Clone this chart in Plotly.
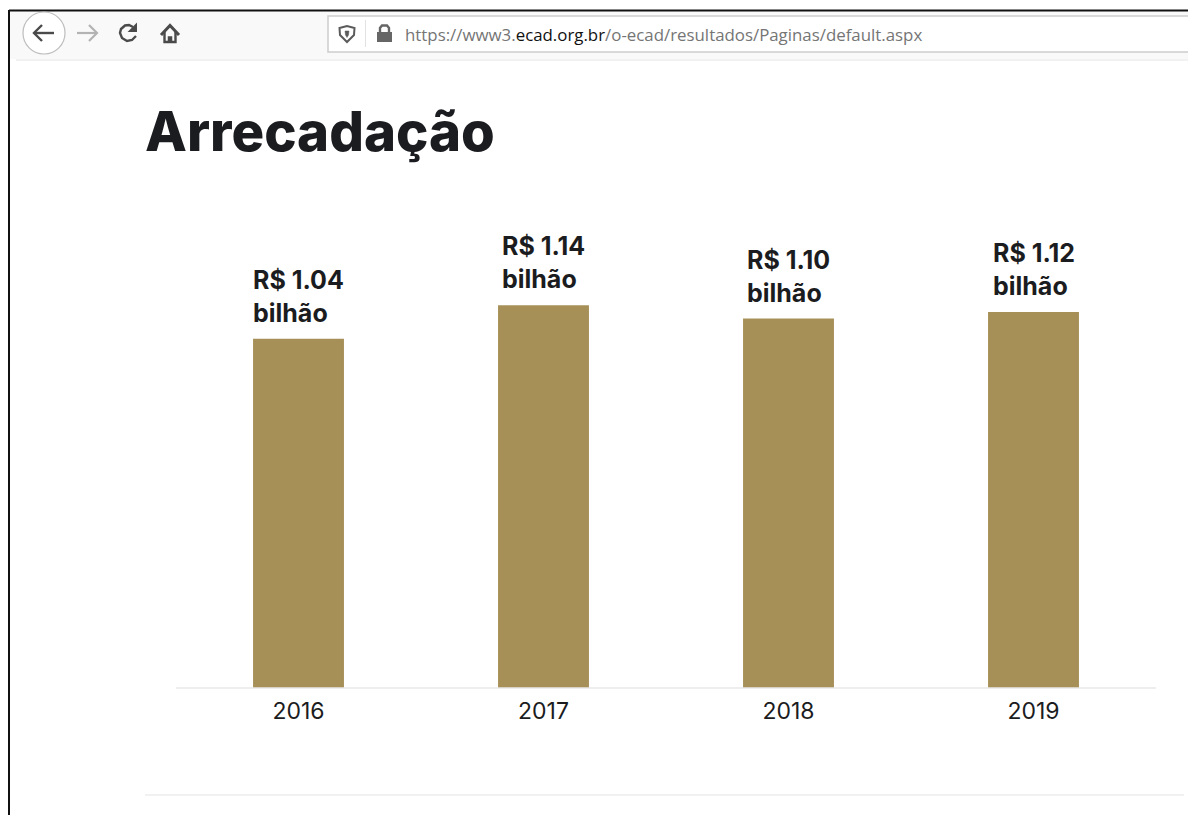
import plotly.graph_objects as go

# Annual collection figures, in billions of reais
years = ["2016", "2017", "2018", "2019"]
revenue = [1.04, 1.14, 1.10, 1.12]
value_labels = ["R$ 1.04", "R$ 1.14", "R$ 1.10", "R$ 1.12"]
unit_label = "bilhão"
page_title = "Arrecadação"
url_parts = ["https://www3.", "ecad.org.br", "/o-ecad/resultados/Paginas/default.aspx"]

W, H = 1188, 815
PLOT_L, PLOT_R, PLOT_T, PLOT_B = 176, 1156, 188, 688
PX_PER_UNIT = 335.8
INK = "#1b1c20"
GOLD = "#a69058"
GREY_TEXT = "#757575"
ICON = "#4a4a4a"


def px(x):
    return (x - PLOT_L) / (PLOT_R - PLOT_L)


def py(y):
    return (PLOT_B - y) / (PLOT_B - PLOT_T)


def rect(x0, y0, x1, y1, fill, line=None, width=0):
    return dict(type="rect", xref="paper", yref="paper", x0=px(x0), x1=px(x1), y0=py(y1), y1=py(y0),
                fillcolor=fill, line=dict(color=line or fill, width=width), layer="below")


def hline(x0, x1, y, color, width=1):
    return dict(type="line", xref="paper", yref="paper", x0=px(x0), x1=px(x1), y0=py(y), y1=py(y),
                line=dict(color=color, width=width), layer="below")


def poly(points, color, width=2, fill=None, close=False):
    d = "M " + " L ".join(f"{px(x):.5f},{py(y):.5f}" for x, y in points) + (" Z" if close else "")
    return dict(type="path", xref="paper", yref="paper", path=d, fillcolor=fill or "rgba(0,0,0,0)",
                line=dict(color=color, width=width))


def ellipse(cx, cy, r, color, width=1, fill="rgba(0,0,0,0)"):
    return dict(type="circle", xref="paper", yref="paper", x0=px(cx - r), x1=px(cx + r),
                y0=py(cy + r), y1=py(cy - r), fillcolor=fill, line=dict(color=color, width=width))


shapes = [
    # browser toolbar and window frame
    rect(10, 11, W, 59, "#f9f9fa"),
    hline(9, W, 10.5, "#111111", 2),
    dict(type="line", xref="paper", yref="paper", x0=px(9), x1=px(9), y0=py(H), y1=py(10),
         line=dict(color="#111111", width=2)),
    hline(16, W, 60, "#e4e4e4", 1),
    rect(328, 16, W + 4, 52, "#ffffff", "#cdcdcd", 1.5),
    dict(type="line", xref="paper", yref="paper", x0=px(365.5), x1=px(365.5), y0=py(47), y1=py(20),
         line=dict(color="#e2e2e2", width=1)),
    # back button
    ellipse(44, 33, 21, "#bdbdbd", 1.2, "#ffffff"),
    poly([(34, 33), (54, 33)], ICON, 2.4),
    poly([(42, 25), (34, 33), (42, 41)], ICON, 2.4),
    # forward arrow
    poly([(77, 33), (97, 33)], "#b3b3b3", 2.2),
    poly([(89, 25), (97, 33), (89, 41)], "#b3b3b3", 2.2),
    # reload
    poly([(133, 27), (129, 25), (125, 25.5), (121, 29), (120, 33), (122, 38), (127, 41), (132, 40), (136, 36)],
         ICON, 2.4),
    poly([(136, 25), (136, 31), (130, 31)], ICON, 2, ICON, True),
    # home
    poly([(161, 35), (170, 25.5), (179, 35)], ICON, 3),
    poly([(164.5, 32), (164.5, 42), (175.5, 42), (175.5, 32)], ICON, 2.4),
    poly([(168.5, 42), (168.5, 37), (171.5, 37), (171.5, 42)], ICON, 1.5, ICON, True),
    # shield
    poly([(339.5, 28), (347, 26), (354.5, 28), (354, 35), (347, 42), (340, 35)], "#5a5a5a", 2, None, True),
    poly([(345, 31), (349, 31), (348.5, 35), (347, 37.5), (345.5, 35)], "#5a5a5a", 0.5, "#5a5a5a", True),
    # padlock
    rect(377, 32, 392, 42, "#666666"),
    poly([(380, 32), (380, 28), (382, 25.5), (387, 25.5), (389, 28), (389, 32)], "#666666", 2.4),
    # rule below the chart
    hline(145, 1184, 795, "#ececec", 1.5),
]

annotations = [
    dict(xref="paper", yref="paper", x=px(143), y=py(131), xanchor="left", yanchor="middle",
         text=page_title, showarrow=False,
         font=dict(family="Inter", size=54.5, color=INK, weight=800)),
    dict(xref="paper", yref="paper", x=px(403), y=py(35), xanchor="left", yanchor="middle", showarrow=False,
         text=(f'<span style="color:{GREY_TEXT}">{url_parts[0]}</span>'
               f'<span style="color:#111111">{url_parts[1]}</span>'
               f'<span style="color:{GREY_TEXT}">{url_parts[2]}</span>'),
         font=dict(family="Open Sans", size=16.85, color=GREY_TEXT)),
]

# Two-line value label sitting above each bar, addressed by category position
for i, (label, value) in enumerate(zip(value_labels, revenue)):
    annotations.append(dict(
        x=i, y=value, xref="x", yref="y", yanchor="bottom", xanchor="center", yshift=9,
        align="left", showarrow=False, text=f"{label}<br>{unit_label}",
        font=dict(family="Inter", size=25, color=INK, weight=700),
    ))

fig = go.Figure(go.Bar(x=years, y=revenue, marker=dict(color=GOLD, line=dict(width=0)), width=0.371,
                       hoverinfo="skip"))

fig.update_layout(
    width=W, height=H,
    margin=dict(l=PLOT_L, r=W - PLOT_R, t=PLOT_T, b=H - PLOT_B, pad=0),
    paper_bgcolor="#ffffff", plot_bgcolor="#ffffff",
    showlegend=False, shapes=shapes, annotations=annotations,
    xaxis=dict(type="category", range=[-0.5, 3.5], showgrid=False, zeroline=False, showline=False,
               ticks="", ticklabelstandoff=7, tickfont=dict(family="Inter", size=23, color=INK)),
    yaxis=dict(range=[0, (PLOT_B - PLOT_T) / PX_PER_UNIT], visible=False, zeroline=True),
)
fig.add_shape(type="line", xref="paper", yref="paper", x0=0, x1=1, y0=0, y1=0,
              line=dict(color="#e8e8e8", width=1.5))

fig.write_html("out.html", config=dict(displayModeBar=False))
